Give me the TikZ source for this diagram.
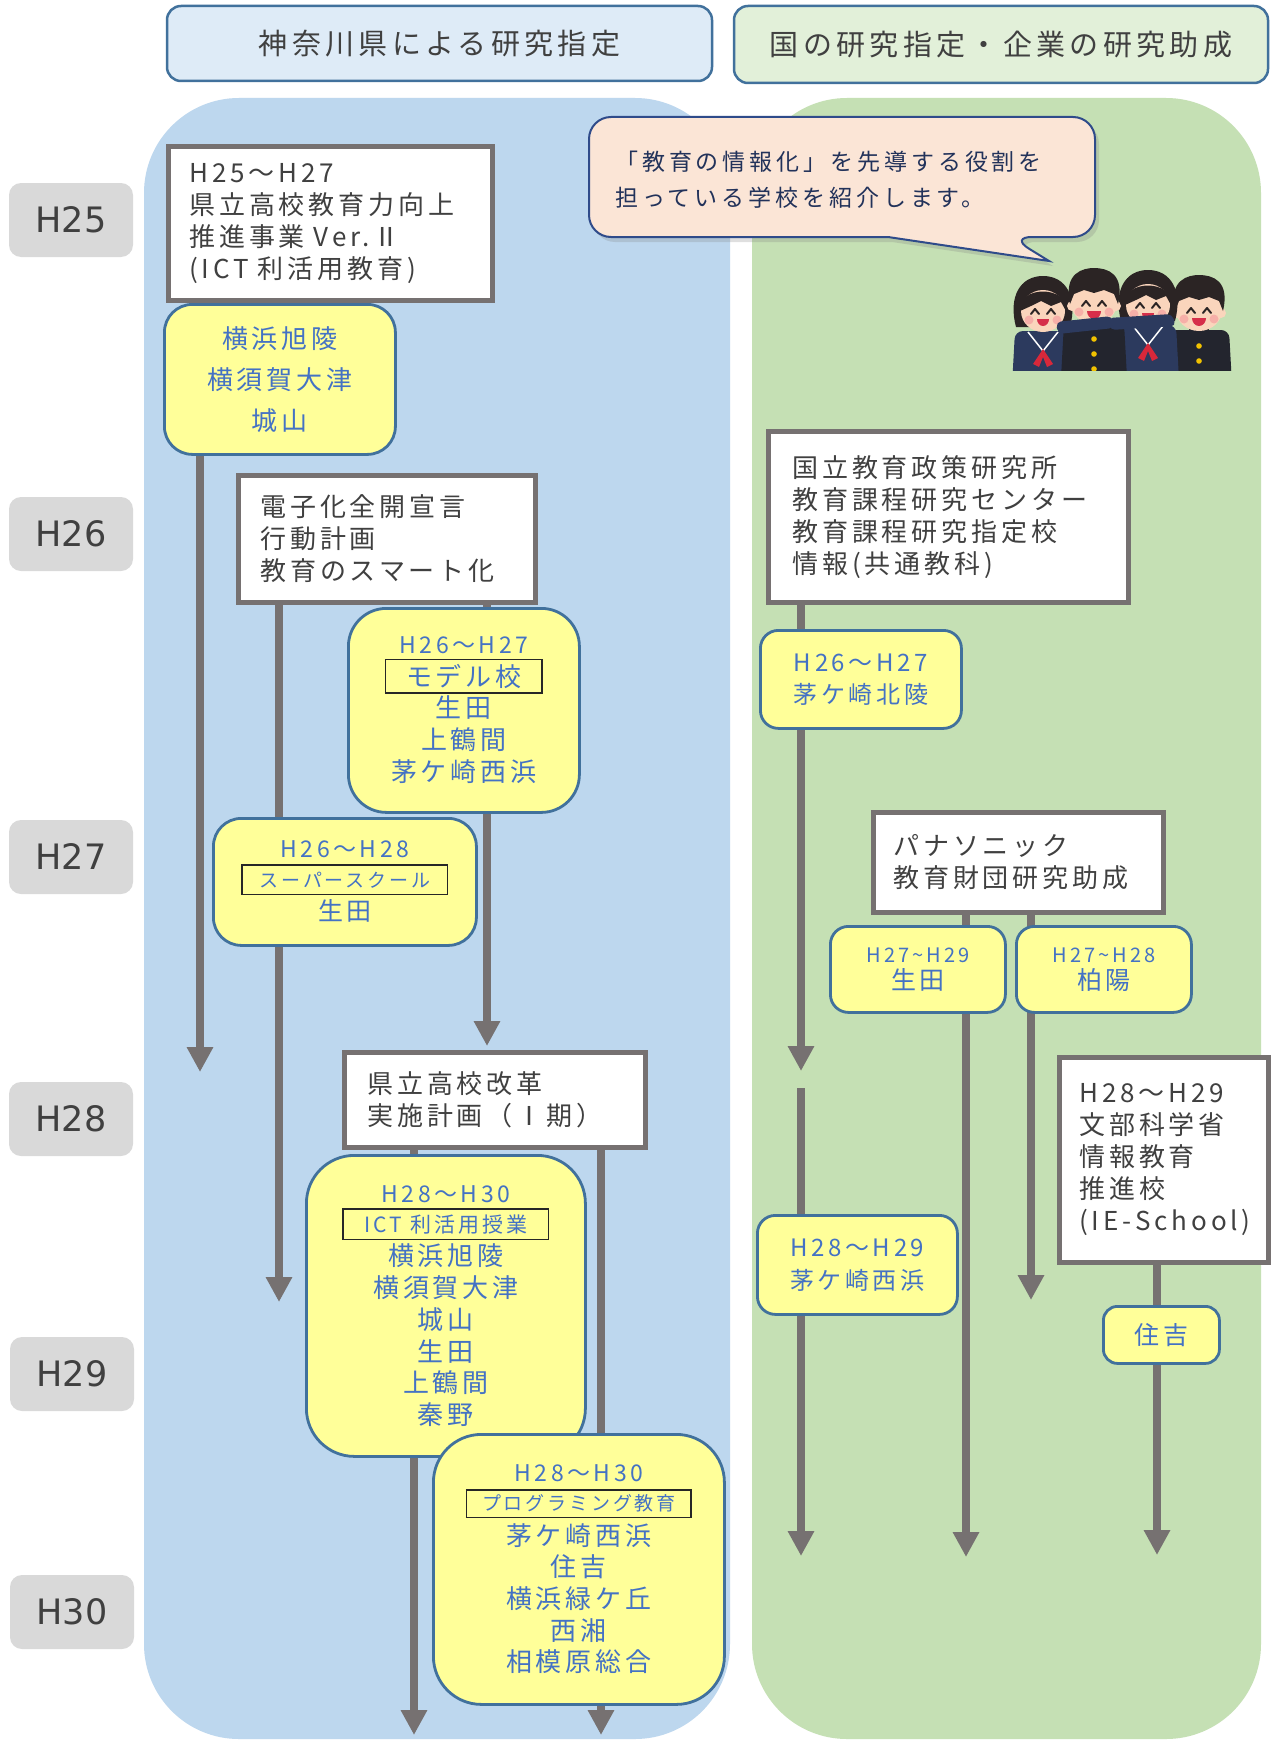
\documentclass[tikz,border=0pt]{standalone}
\usepackage{fontspec}
\setmainfont{Noto Sans CJK JP}
\newfontfamily\jpfont[LetterSpace=15]{Noto Sans CJK JP}
\newfontfamily\notefont[LetterSpace=17]{Noto Sans CJK JP}
\newfontfamily\yearfont{DejaVu Sans}
\usetikzlibrary{arrows.meta,shadows}

\definecolor{panelblue}{HTML}{BDD7EE}
\definecolor{panelgreen}{HTML}{C5E0B4}
\definecolor{headblue}{HTML}{DEEBF7}
\definecolor{headgreen}{HTML}{E2F0D9}
\definecolor{edgeblue}{HTML}{41719C}
\definecolor{flowgray}{HTML}{767171}
\definecolor{ink}{HTML}{404040}
\definecolor{schoolblue}{HTML}{4472C4}
\definecolor{noteyellow}{HTML}{FFFF99}
\definecolor{labelgray}{HTML}{D9D9D9}
\definecolor{peach}{HTML}{FBE5D6}
\definecolor{bubbleedge}{HTML}{2F4B8A}
\definecolor{bubbleink}{HTML}{22325A}
\definecolor{tagedge}{HTML}{262626}
\definecolor{skin}{HTML}{FAD5BC}
\definecolor{hairdark}{HTML}{2B2424}
\definecolor{navyuni}{HTML}{2C3A5E}
\definecolor{blackuni}{HTML}{23252E}
\definecolor{scarfred}{HTML}{D8283A}
\definecolor{mouthred}{HTML}{D62E4A}
\definecolor{cheek}{HTML}{F5A0A0}
\definecolor{button}{HTML}{F2C200}

% framed sub-heading inside a school box; smashed so the row pitch stays even
\newcommand\tagline[3]{\smash{\raisebox{0.13em}{\setlength\fboxsep{0pt}\setlength\fboxrule{1.5pt}\fcolorbox{tagedge}{noteyellow}{\parbox[c][#2][c]{#1}{\centering #3}}}}}

\pgfdeclarelayer{panels}
\pgfdeclarelayer{lines}
\pgfsetlayers{panels,lines,main}

\tikzset{
  girl/.pic={
    \fill[hairdark] (-27,18) .. controls (-35,-12) and (-23,-33) .. (0,-33) .. controls (23,-33) and (35,-12) .. (27,18) -- cycle;
    \fill[navyuni, rounded corners=8pt] (-28,22) -- (28,22) -- (32,95) -- (-32,95) -- cycle;
    \draw[white, line width=1.5pt] (-15,23) -- (0,42) -- (15,23);
    \fill[scarfred] (0,40) -- (-10,55) -- (-4,58) -- (0,48) -- (4,58) -- (10,55) -- cycle;
    \fill[skin] (0,2) ellipse (22 and 21);
    \fill[hairdark] (-23,2) .. controls (-26,-24) and (26,-24) .. (23,2) -- (18,-7) -- (8,-3) -- (-2,-8) -- (-12,-3) -- cycle;
    \draw[hairdark, line width=2pt, line cap=round, line join=round] (-12,5) -- (-8,0) -- (-4,5) (4,5) -- (8,0) -- (12,5);
    \fill[cheek, opacity=.7] (-14,11) circle (4.5) (14,11) circle (4.5);
    \fill[mouthred] (-6,10) arc[start angle=180, end angle=0, x radius=6, y radius=7] -- cycle;
  },
  boy/.pic={
    \fill[blackuni, rounded corners=8pt] (-30,22) -- (30,22) -- (34,95) -- (-34,95) -- cycle;
    \fill[blackuni] (-10,16) rectangle (10,30);
    \fill[button] (0,38) circle (2.8) (0,53) circle (2.8) (0,68) circle (2.8);
    \fill[skin] (-22,5) circle (5) (22,5) circle (5);
    \fill[skin] (0,2) ellipse (23 and 21);
    \fill[hairdark] (-24,3) .. controls (-31,-29) and (-10,-33) .. (0,-33) .. controls (14,-33) and (31,-27) .. (24,3) -- (20,-7) -- (10,-11) -- (0,-8) -- (-10,-11) -- (-20,-7) -- cycle;
    \draw[hairdark, line width=2pt, line cap=round, line join=round] (-12,5) -- (-8,0) -- (-4,5) (4,5) -- (8,0) -- (12,5);
    \fill[cheek, opacity=.7] (-15,11) circle (4.5) (15,11) circle (4.5);
    \fill[mouthred] (-7,10) arc[start angle=180, end angle=0, x radius=7, y radius=8] -- cycle;
  }
}

\begin{document}
\begin{tikzpicture}[x=1pt,y=-1pt,
  yearlbl/.style={fill=labelgray, rounded corners=12pt, minimum width=124pt, minimum height=74pt, inner sep=0pt, text=ink, font=\yearfont\fontsize{35}{35}\selectfont},
  header/.style={draw=edgeblue, line width=2.5pt, rounded corners=14pt, inner sep=0pt, text=ink, font=\jpfont\fontsize{29}{35}\selectfont},
  plan/.style={draw=flowgray, line width=4.5pt, fill=white, text=ink, align=left, anchor=north west, inner ysep=0pt, font=\jpfont\fontsize{26}{32}\selectfont},
  school/.style={draw=edgeblue, line width=2.8pt, fill=noteyellow, text=schoolblue, align=center, anchor=north west, inner sep=0pt, font=\jpfont\fontsize{26}{32}\selectfont},
  flow/.style={draw=flowgray, line width=8pt, -{Triangle[width=25pt,length=25pt]}},
]
\useasboundingbox (0,0) rectangle (1271,1742);

% page and the two column panels
\begin{pgfonlayer}{panels}
  \fill[white] (0,0) rectangle (1271,1742);
  \fill[panelblue, rounded corners=95pt] (144,98) rectangle (730,1739);
  \fill[panelgreen, rounded corners=95pt] (752,98) rectangle (1261,1739);
\end{pgfonlayer}

% column headings
\node[header, fill=headblue, minimum width=545pt, minimum height=75pt] (hdL) at (439.5,43.5) {神奈川県による研究指定};
\node[header, fill=headgreen, minimum width=534pt, minimum height=77pt] (hdR) at (1001,44.5) {国の研究指定・企業の研究助成};

% fiscal years
\node[yearlbl] (y25) at (71,220) {H25};
\node[yearlbl] (y26) at (71,534) {H26};
\node[yearlbl] (y27) at (71,857) {H27};
\node[yearlbl] (y28) at (71,1119) {H28};
\node[yearlbl] (y29) at (72,1374) {H29};
\node[yearlbl] (y30) at (72,1612) {H30};

% prefecture programmes
\node[plan, minimum height=154pt, text width=282pt, inner xsep=21pt] (boxA) at (166,144)
  {H25～H27\\県立高校教育力向上\\推進事業 Ver.Ⅱ\\(ICT 利活用教育)};
\node[school, minimum width=231pt, minimum height=150pt, rounded corners=28pt, font=\jpfont\fontsize{26}{41}\selectfont] (s1) at (163,303)
  {横浜旭陵\\横須賀大津\\城山};
\node[plan, minimum height=127pt, text width=253pt, inner xsep=22pt] (boxB) at (236,473)
  {電子化全開宣言\\行動計画\\教育のスマート化};
\node[school, minimum width=231pt, minimum height=204pt, rounded corners=38pt] (s2) at (347,607)
  {{\fontsize{23}{32}\selectfont H26～H27}\\\tagline{155pt}{32pt}{モデル校}\\生田\\上鶴間\\茅ケ崎西浜};
\node[school, minimum width=263pt, minimum height=127pt, rounded corners=28pt, font=\jpfont\fontsize{25}{31.5}\selectfont] (s3) at (212,817)
  {{\fontsize{23}{31.5}\selectfont H26～H28}\\\tagline{204pt}{28pt}{\fontsize{19}{19}\selectfont スーパースクール}\\生田};
\node[plan, minimum height=95pt, text width=255pt, inner xsep=23pt] (boxC) at (342,1050)
  {県立高校改革\\実施計画（Ⅰ期）};
\node[school, minimum width=279pt, minimum height=301pt, rounded corners=48pt, font=\jpfont\fontsize{26}{31.8}\selectfont] (s4) at (305,1154)
  {{\fontsize{23}{31.8}\selectfont H28～H30}\\\tagline{204pt}{29pt}{\fontsize{21}{21}\selectfont ICT 利活用授業}\\横浜旭陵\\横須賀大津\\城山\\生田\\上鶴間\\秦野};
\node[school, minimum width=291pt, minimum height=270pt, rounded corners=48pt, font=\jpfont\fontsize{26}{31.7}\selectfont] (s5) at (432,1433)
  {{\fontsize{23}{31.7}\selectfont H28～H30}\\\tagline{223pt}{26pt}{\fontsize{19}{19}\selectfont プログラミング教育}\\茅ケ崎西浜\\住吉\\横浜緑ケ丘\\西湘\\相模原総合};

% national / corporate programmes
\node[plan, minimum height=171pt, text width=312pt, inner xsep=24pt] (boxD) at (766,429)
  {国立教育政策研究所\\教育課程研究センター\\教育課程研究指定校\\情報(共通教科)};
\node[school, minimum width=201pt, minimum height=98pt, rounded corners=18pt, font=\jpfont\fontsize{24}{32}\selectfont] (s6) at (759,629)
  {H26～H27\\茅ケ崎北陵};
\node[plan, minimum height=100pt, text width=250pt, inner xsep=20pt] (boxE) at (871,810)
  {パナソニック\\教育財団研究助成};
\node[school, minimum width=175pt, minimum height=86pt, rounded corners=18pt, font=\jpfont\fontsize{25}{27}\selectfont] (s7) at (829,925)
  {{\fontsize{20}{27}\selectfont H27\textasciitilde H29}\\生田};
\node[school, minimum width=175pt, minimum height=86pt, rounded corners=18pt, font=\jpfont\fontsize{25}{27}\selectfont] (s8) at (1015,925)
  {{\fontsize{20}{27}\selectfont H27\textasciitilde H28}\\柏陽};
\node[plan, minimum height=205pt, text width=169pt, inner xsep=20pt] (boxF) at (1057,1055)
  {H28～H29\\文部科学省\\情報教育\\推進校\\(IE-School)};
\node[school, minimum width=200pt, minimum height=99pt, rounded corners=18pt, font=\jpfont\fontsize{24}{33}\selectfont] (s9) at (756,1214)
  {H28～H29\\茅ケ崎西浜};
\node[school, minimum width=116pt, minimum height=57pt, rounded corners=14pt, font=\jpfont\fontsize{25}{30}\selectfont] (s10) at (1102,1305)
  {住吉};

% timelines running down behind the boxes
\coordinate (tipA) at (200,1072);
\coordinate (tipB1) at (279,1302);
\coordinate (tipB2) at (487,1046);
\coordinate (tipC1) at (414,1735);
\coordinate (tipC2) at (601,1735);
\coordinate (tipD) at (801,1071);
\coordinate (resumeD) at (801,1088);
\coordinate (tipD2) at (801,1556);
\coordinate (tipE1) at (966,1557);
\coordinate (tipE2) at (1031,1300);
\coordinate (tipF) at (1157,1555);
\begin{pgfonlayer}{lines}
  \draw[flow] (boxA.south -| tipA) -- (tipA);
  \draw[flow] (boxB.south -| tipB1) -- (tipB1);
  \draw[flow] (boxB.south -| tipB2) -- (tipB2);
  \draw[flow] (boxC.south -| tipC1) -- (tipC1);
  \draw[flow] (boxC.south -| tipC2) -- (tipC2);
  \draw[flow] (boxD.south -| tipD) -- (tipD);
  \draw[flow] (resumeD) -- (tipD2);
  \draw[flow] (boxE.south -| tipE1) -- (tipE1);
  \draw[flow] (boxE.south -| tipE2) -- (tipE2);
  \draw[flow] (boxF.south -| tipF) -- (tipF);
\end{pgfonlayer}

% speech bubble
\path[draw=bubbleedge, line width=2pt, fill=peach,
      drop shadow={shadow xshift=4pt, shadow yshift=-5pt, opacity=.25}]
  [rounded corners=22pt] (589,237) -- (589,117) -- (1095,117) -- (1095,237) -- (1010,237)
  [sharp corners] -- (1049,261) -- (888,237)
  [rounded corners=22pt] -- cycle;
\node[anchor=west, align=left, inner sep=0pt, text=bubbleink, font=\notefont\fontsize{23}{36}\selectfont] (note) at (615,180)
  {「教育の情報化」を先導する役割を\\担っている学校を紹介します。};

% group of students, arms over each other's shoulders
\begin{scope}
  \clip (1000,240) rectangle (1240,370);
  \pic at (1043,309) {girl};
  \pic at (1199,308) {boy};
  \pic at (1148,303) {girl};
  \pic at (1094,301) {boy};
  \fill[navyuni, rounded corners=5pt] (1108,318) -- (1172,314) -- (1176,326) -- (1110,330) -- cycle;
  \fill[navyuni, rounded corners=5pt] (1056,322) -- (1112,316) -- (1114,328) -- (1058,334) -- cycle;
\end{scope}
\end{tikzpicture}
\end{document}
